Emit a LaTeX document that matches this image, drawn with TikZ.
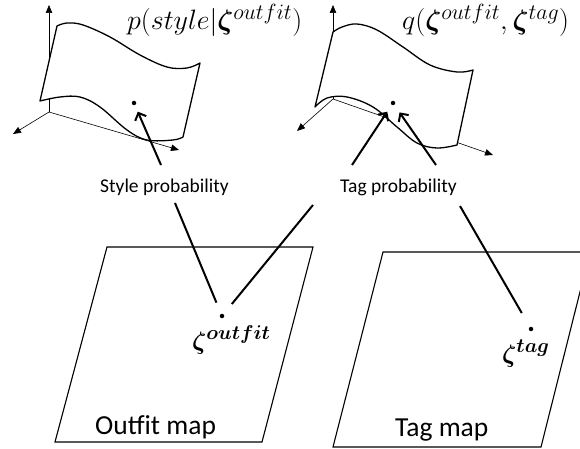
\RequirePackage{fix-cm}
\documentclass[tikz,border=0pt]{standalone}
\usepackage{amsmath,bm}
\usepackage{fontspec}
\newfontfamily\calib{Carlito}
\usetikzlibrary{arrows.meta}
\DeclareMathSizes{28}{28}{22}{17}
\DeclareMathSizes{25}{25}{20}{15}
\begin{document}
\begin{tikzpicture}[x=1pt,y=-1pt,
  axis/.style={line width=0.6pt,-{Triangle[length=8pt,width=6.5pt]}},
  surf/.style={line width=1.3pt,fill=white,line join=round},
  conn/.style={line width=2pt},
  arr/.style={line width=2pt,-{Straight Barb[length=6pt,width=12pt]}},
  mapbox/.style={line width=1.1pt},
  dotst/.style={circle,fill,inner sep=0pt,minimum size=4.5pt},
  lbl/.style={font=\calib\fontsize{19.5}{22}\selectfont,inner sep=0pt,anchor=base west},
  mlbl/.style={font=\fontsize{28}{30}\selectfont,inner sep=0pt,anchor=base west},
  zlbl/.style={font=\fontsize{25}{27}\selectfont,inner sep=0pt,anchor=base west},
  maplbl/.style={font=\calib\fontsize{27.5}{30}\selectfont,inner sep=0pt,anchor=base west}]
\useasboundingbox (0,0) rectangle (580,449);

% ---- left axes
\coordinate (lo) at (49,112);
\coordinate (lz) at (49,5);
\coordinate (lx) at (13,134);
\coordinate (ly) at (179,150);
\draw[axis] (lo) -- (lz);
\draw[axis] (lo) -- (lx);
\draw[axis] (lo) -- (ly);

% ---- right axes
\coordinate (ro) at (333,99);
\coordinate (rz) at (333,5);
\coordinate (rx) at (297,131);
\coordinate (ry) at (493,155);
\draw[axis] (ro) -- (rz);
\draw[axis] (ro) -- (rx);
\draw[axis] (ro) -- (ry);

% ---- left surface
\draw[surf] (57,26) -- plot[smooth,tension=0.6] coordinates {(57,26) (67,23) (83,25) (110,37) (140,55) (167,67) (187,68) (200,63)}
  -- (183,137) -- plot[smooth,tension=0.6] coordinates {(183,137) (173,140) (147,140) (127,130) (100,107) (80,97) (60,97) (40,101)}
  -- cycle;

% ---- right surface
\draw[surf] (333,32) -- plot[smooth,tension=0.6] coordinates {(333,32) (342,27) (357,24) (377,30) (403,47) (430,65) (457,72) (473,70)}
  -- (457,145) -- plot[smooth,tension=0.6] coordinates {(457,145) (437,148) (417,143) (397,127) (373,107) (347,97) (327,98) (315,107)}
  -- cycle;

% ---- dots on surfaces
\node[dotst] (sd) at (134,103) {};
\node[dotst] (td) at (393,103) {};

% ---- probability arrows
\coordinate (sa) at (161,165);
\coordinate (ta1) at (352,165);
\coordinate (ta2) at (436,165);
\draw[arr,shorten >=7pt] (sa) -- (sd);
\draw[arr,shorten >=8pt] (ta1) -- (td);
\draw[arr,shorten >=9pt] (ta2) -- (td);

% ---- formula labels
\node[mlbl] (pl) at (127,30) {$p(style|\bm{\zeta}^{outfit})$};
\node[mlbl] (ql) at (402,30) {$q(\bm{\zeta}^{outfit},\bm{\zeta}^{tag})$};

% ---- probability labels
\node[lbl] (sp) at (100,192) {Style probability};
\node[lbl] (tp) at (340,192) {Tag probability};

% ---- maps
\draw[mapbox] (107,247) -- (313,247) -- (262,442) -- (55,442) -- cycle;
\draw[mapbox] (383,252) -- (590,252) -- (541,447) -- (333,447) -- cycle;
\node[maplbl] (om) at (95,434) {Outfit map};
\node[maplbl] (tm) at (395,436) {Tag map};

% ---- latent points
\node[dotst] (od) at (222,316) {};
\node[dotst] (gd) at (531,329) {};
\node[zlbl] (oz) at (192,349) {$\bm{\zeta^{outfit}}$};
\node[zlbl] (gz) at (502,362) {$\bm{\zeta^{tag}}$};

% ---- connectors
\coordinate (c1) at (175,203);
\coordinate (c2) at (313,205);
\coordinate (c3) at (460,206);
\draw[conn,shorten >=12pt] (c1) -- (od);
\draw[conn,shorten >=13pt] (c2) -- (od);
\draw[conn,shorten >=16pt] (c3) -- (gd);
\end{tikzpicture}
\end{document}
